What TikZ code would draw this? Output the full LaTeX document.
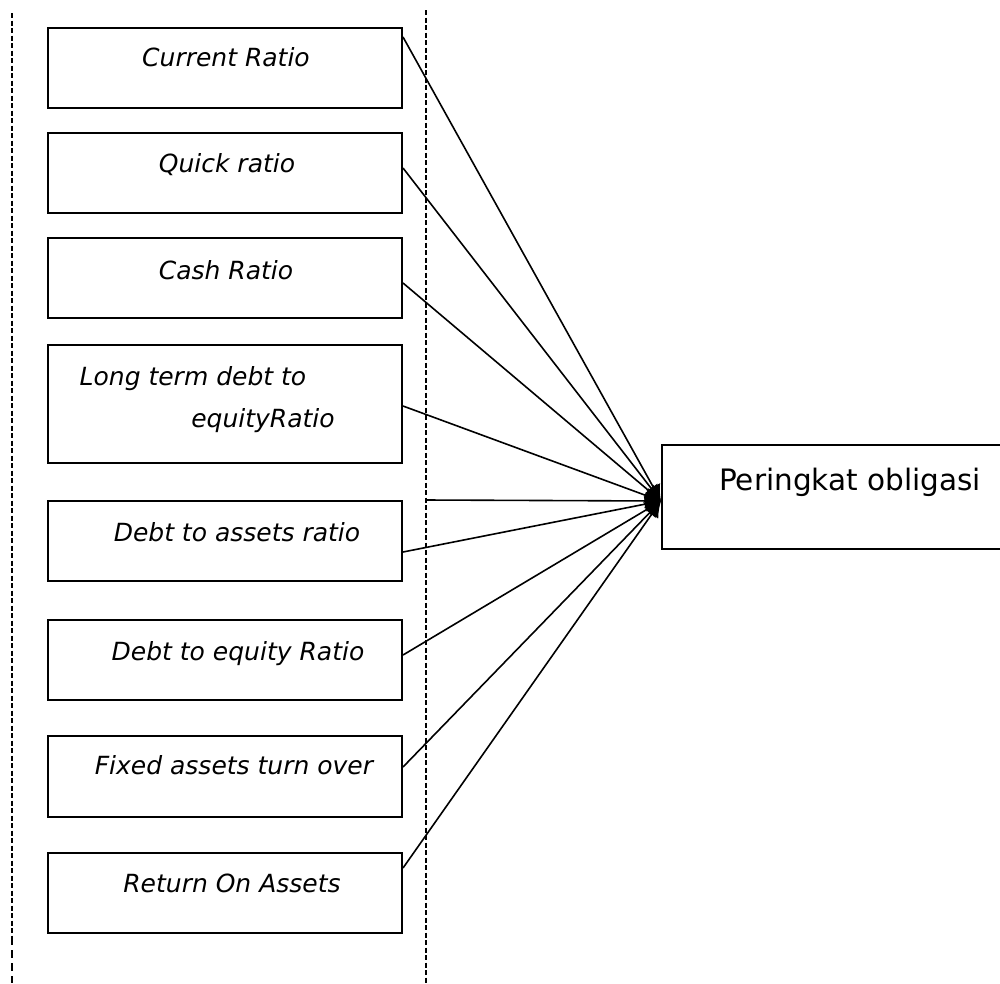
\documentclass[tikz,border=0pt]{standalone}
\usepackage{fontspec}
\setmainfont{DejaVu Sans}
\usetikzlibrary{arrows.meta}
\begin{document}
\begin{tikzpicture}[x=1pt,y=-1pt,
  box/.style={draw, line width=2pt, minimum width=354pt, minimum height=80pt, inner sep=0pt, anchor=north west},
  lbl/.style={font=\fontsize{25}{30}\selectfont\itshape, inner sep=0pt, anchor=base},
  link/.style={line width=1.6pt, -{Latex[length=16pt,width=16pt]}},
  guide/.style={line width=1.4pt, dash pattern=on 5pt off 2.5pt}]
\useasboundingbox (0,0) rectangle (1000,983);
% guide lines
\coordinate (gl1) at (12,13);
\coordinate (gl2) at (12,937);
\coordinate (gl3) at (12,983);
\coordinate (gr1) at (426,10);
\coordinate (gr2) at (426,983);
\draw[guide] (gl1) -- (gl2);
\draw[line width=1.4pt, dash pattern=on 8pt off 5pt] (gl2) -- (gl3);
\draw[guide] (gr1) -- (gr2);
% boxes
\node[box] (b1) at (47,27) {};
\node[box] (b2) at (47,132) {};
\node[box] (b3) at (47,237) {};
\node[box, minimum height=118pt] (b4) at (47,344) {};
\node[box] (b5) at (47,500) {};
\node[box] (b6) at (47,619) {};
\node[box, minimum height=81pt] (b7) at (47,735) {};
\node[box] (b8) at (47,852) {};
% texts
\node[lbl] (t1) at (226,66) {Current Ratio};
\node[lbl] (t2) at (227,172) {Quick ratio};
\node[lbl] (t3) at (226,279) {Cash Ratio};
\node[lbl] (t4a) at (193,385) {Long term debt to};
\node[lbl] (t4b) at (263,427) {equityRatio};
\node[lbl] (t5) at (237,541) {Debt to assets ratio};
\node[lbl] (t6) at (238,660) {Debt to equity Ratio};
\node[lbl] (t7) at (234,774) {Fixed assets turn over};
\node[lbl] (t8) at (232,892) {Return On Assets};
% target
\node[draw, line width=2pt, anchor=north west, minimum width=380pt, minimum height=104pt, inner sep=0pt] (pb) at (661,444) {};
\node[font=\fontsize{29.5}{35}\selectfont, inner sep=0pt, anchor=base] (pt) at (850,490) {Peringkat obligasi};
\coordinate (tip) at ([yshift=-4pt]pb.west);
\coordinate (h) at (426,500);
% connectors
\draw[link] ([yshift=-10pt]b1.north east) -- (tip);
\draw[link] ([yshift=-36pt]b2.north east) -- (tip);
\draw[link] ([yshift=-46pt]b3.north east) -- (tip);
\draw[link] ([yshift=-62pt]b4.north east) -- (tip);
\draw[link] (h) -- (tip);
\draw[link] ([yshift=-52pt]b5.north east) -- (tip);
\draw[link] ([yshift=-36pt]b6.north east) -- (tip);
\draw[link] ([yshift=-32pt]b7.north east) -- (tip);
\draw[link] ([yshift=-16pt]b8.north east) -- (tip);
\end{tikzpicture}
\end{document}
